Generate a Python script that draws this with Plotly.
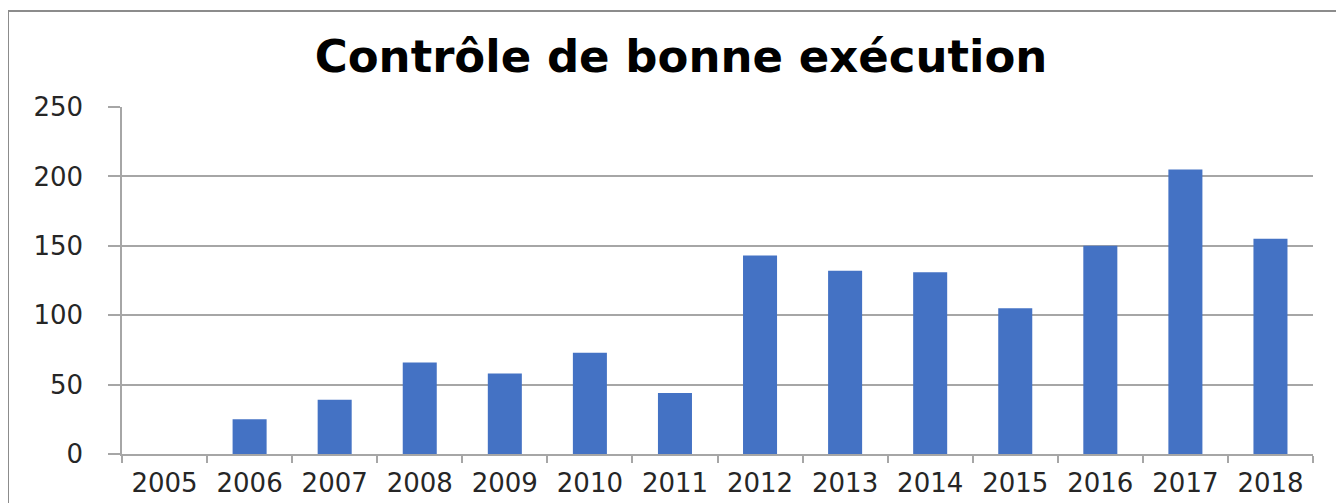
import plotly.graph_objects as go

years = ["2005", "2006", "2007", "2008", "2009", "2010", "2011", "2012",
         "2013", "2014", "2015", "2016", "2017", "2018"]
values = [0, 25, 39, 66, 58, 73, 44, 143, 132, 131, 105, 150, 205, 155]
title_text = "Contrôle de bonne exécution"
y_ticks = [0, 50, 100, 150, 200, 250]

# page has an 8px body margin; compensate so the plot lands where the reference is
OFF = 8
W, H = 1344 - OFF, 503 - OFF
L, R, T, B = 122 - OFF, 31, 107 - OFF, 49
grid = "#a6a6a6"

fig = go.Figure(go.Bar(
    x=years, y=values,
    marker=dict(color="#4472C4", line=dict(width=0)),
    width=0.4,
))

fig.update_layout(
    width=W, height=H,
    margin=dict(l=L, r=R, t=T, b=B, autoexpand=False),
    paper_bgcolor="white", plot_bgcolor="white",
    showlegend=False,
    title=dict(text=title_text, x=(681 - OFF) / W, xref="container", xanchor="center",
               y=1 - (56 - OFF) / H, yref="container", yanchor="middle",
               font=dict(family="DejaVu Sans", size=45, color="black", weight="bold")),
    font=dict(family="DejaVu Sans", size=26, color="#262626"),
)

fig.update_xaxes(
    type="category", showline=True, linecolor=grid, linewidth=1.5,
    ticks="outside", tickson="boundaries", ticklen=7, tickcolor=grid, tickwidth=1.5,
    showgrid=False, ticklabelstandoff=5,
    tickfont=dict(family="DejaVu Sans", size=26, color="#262626"),
)
fig.update_yaxes(
    range=[0, 250], tickvals=y_ticks, showgrid=True, gridcolor=grid, gridwidth=1.5,
    showline=True, linecolor=grid, linewidth=1.5,
    ticks="outside", ticklen=12, tickcolor=grid, tickwidth=1.5,
    zeroline=False, ticklabelstandoff=20,
    tickfont=dict(family="DejaVu Sans", size=26, color="#262626"),
)

pw = W - L - R
ph = H - T - B
fig.add_shape(type="rect", xref="paper", yref="paper",
              x0=(8 - 122) / pw, x1=1.2, y0=-0.5, y1=(454 - 11) / ph,
              line=dict(color="#8c8c8c", width=2), fillcolor="rgba(0,0,0,0)", layer="below")

fig.write_html("out.html")
